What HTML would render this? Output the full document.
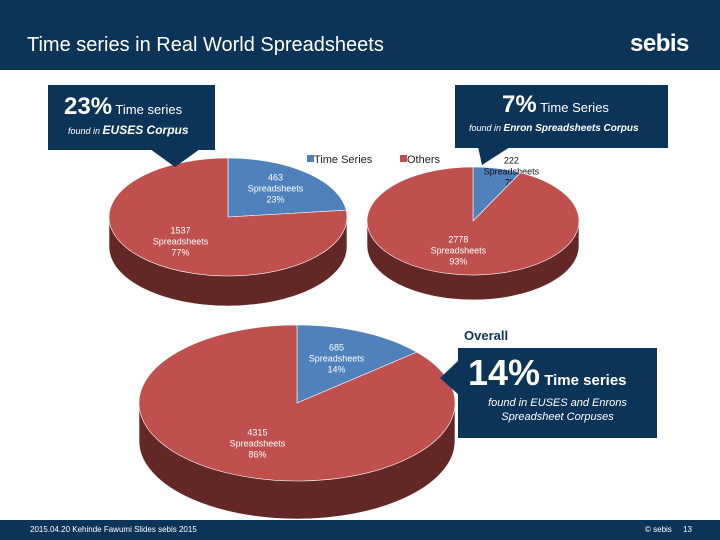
<!DOCTYPE html>
<html><head><meta charset="utf-8"><style>
body{margin:0;width:720px;height:540px;overflow:hidden;background:#fff;font-family:"Liberation Sans",sans-serif;position:relative}
.abs{position:absolute}
.box{position:absolute;background:#0c3459;color:#fff}
</style></head><body>
<div class="abs" style="left:0;top:0;width:720px;height:70px;background:#0c3459"></div>
<div class="abs" style="left:27px;top:34px;color:#fff;font-size:20px">Time series in Real World Spreadsheets</div>
<div class="abs" style="left:630px;top:30px;color:#fff;font-size:24px;font-weight:bold;letter-spacing:-0.5px">sebis</div>
<svg class="abs" style="left:0;top:0" width="720" height="540" id="chart"></svg>
<div class="box" style="left:48px;top:85px;width:167px;height:65px">
 <div class="abs" style="left:16px;top:8px;font-size:24px;font-weight:bold">23%<span style="font-size:13px;font-weight:normal"> Time series</span></div>
 <div class="abs" style="left:20px;top:38px;font-size:9px;font-style:italic">found in <b style="font-size:12px">EUSES Corpus</b></div>
</div>
<div class="box" style="left:455px;top:85px;width:213px;height:63px">
 <div class="abs" style="left:47px;top:6px;font-size:24px;font-weight:bold">7%<span style="font-size:13px;font-weight:normal"> Time Series</span></div>
 <div class="abs" style="left:14px;top:38px;font-size:9px;font-style:italic">found in <b style="font-size:10px">Enron Spreadsheets Corpus</b></div>
</div>
<div class="abs" style="left:464px;top:328px;font-size:13px;font-weight:bold;color:#0c3459">Overall</div>
<div class="box" style="left:458px;top:348px;width:199px;height:90px">
 <div class="abs" style="left:10px;top:4px;font-size:36px;font-weight:bold">14%<span style="font-size:15px;font-weight:bold"> Time series</span></div>
 <div class="abs" style="left:0;top:48px;width:199px;text-align:center;font-size:11px;font-style:italic;line-height:14px">found in EUSES and Enrons<br>Spreadsheet Corpuses</div>
</div>
<div class="abs" style="left:0;top:520px;width:720px;height:20px;background:#0c3459;color:#fff;font-size:8px">
 <span class="abs" style="left:30px;top:5px">2015.04.20 Kehinde Fawumi Slides sebis 2015</span>
 <span class="abs" style="left:645px;top:5px">© sebis</span>
 <span class="abs" style="left:683px;top:5px">13</span>
</div>
<script>
const categories=["Time Series","Others"];
const euses=[463,1537];
const enron=[222,2778];
const overall=[685,4315];
const colors=["#4f81bd","#c0504d"];
const NS="http://www.w3.org/2000/svg";
const svg=document.getElementById('chart');
function mk(t,a,p){const e=document.createElementNS(NS,t);for(const k in a)e.setAttribute(k,a[k]);(p||svg).appendChild(e);return e;}
function pt(cx,cy,rx,ry,f){const t=f*2*Math.PI;return [cx+rx*Math.sin(t),cy-ry*Math.cos(t)];}
function drawPie(name,vals,cx,cy,rx,ry,d,lblOpts){
 const g=mk('g',{});
 
 
 const side=mk('path',{d:`M${cx-rx},${cy} L${cx-rx},${cy+d} A${rx},${ry} 0 0 0 ${cx+rx},${cy+d} L${cx+rx},${cy} Z`,fill:'#632826',stroke:'#fff','stroke-width':0.6},g);
 
 
 const tot=vals.reduce((a,b)=>a+b,0);let acc=0;
 vals.forEach((v,i)=>{
  const f0=acc/tot,f1=(acc+v)/tot;acc+=v;
  const p0=pt(cx,cy,rx,ry,f0),p1=pt(cx,cy,rx,ry,f1);
  const s=mk('path',{d:`M${cx},${cy} L${p0[0]},${p0[1]} A${rx},${ry} 0 ${f1-f0>0.5?1:0} 1 ${p1[0]},${p1[1]} Z`,fill:colors[i],stroke:'#fff','stroke-width':0.6},g);
  
  
  const m=(f0+f1)/2;
  const small=(f1-f0)<0.1;
  const lp=pt(cx,cy,rx*(small?1.0:0.6),ry*(small?1.0:0.6),m);
  const pct=Math.round(v/tot*100)+'%';
  [String(v),'Spreadsheets',pct].forEach((t,k)=>{
   const tx=mk('text',{x:lp[0]+(small?14:0),y:lp[1]-10+k*11+(small?5:0),'text-anchor':'middle','font-size':9,fill:small?'#111':'#fff','font-family':'Liberation Sans, sans-serif'},g);
   tx.textContent=t;
   
   
  });
 });
}
drawPie('euses-pie',euses,228,217,119,59,30);
drawPie('enron-pie',enron,473,221,106,54,25);
drawPie('overall-pie',overall,297,403,158,78,38);
// legend
categories.forEach((c,i)=>{
 const x=[307,400][i];
 const r=mk('rect',{x:x,y:155,width:7,height:7,fill:colors[i]});
 
 
 const t=mk('text',{x:x+7,y:163,'font-size':11,fill:'#222','font-family':'Liberation Sans, sans-serif'});
 t.textContent=c;
 
 
});
// callout pointers
[[`M150,149 L200,149 L175,167 Z`],[`M478,147 L510,147 L482,165 Z`],[`M459,360 L459,395 L440,378 Z`]].forEach(p=>{
 const e=mk('path',{d:p[0],fill:'#0c3459'});
 
 
});
</script>
</body></html>
